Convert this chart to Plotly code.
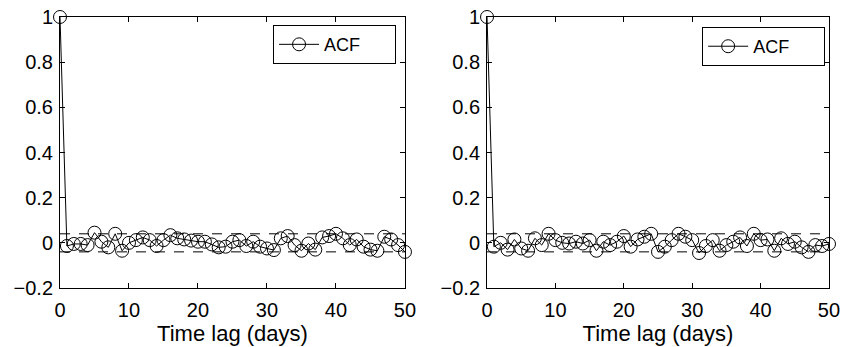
import plotly.graph_objects as go

lags = list(range(0, 51))
acf_left = [1.0, -0.014, -0.005, -0.005, -0.01, 0.045, 0.005, -0.02, 0.04, -0.035,
            0.0, 0.012, 0.024, 0.012, -0.014, 0.012, 0.034, 0.02, 0.015, 0.01,
            0.005, 0.005, -0.007, -0.02, -0.017, 0.005, 0.012, -0.014, 0.005, -0.017,
            -0.025, -0.032, 0.02, 0.03, -0.01, -0.035, -0.003, -0.03, 0.024, 0.03,
            0.04, 0.02, -0.01, 0.015, -0.017, -0.03, -0.035, 0.027, 0.015, -0.01, -0.04]
acf_right = [1.0, -0.017, 0.0, -0.03, 0.015, -0.025, -0.035, 0.02, -0.01, 0.04,
             0.012, 0.0, -0.003, 0.005, -0.003, 0.012, -0.035, 0.005, -0.01, 0.005,
             0.03, -0.017, 0.015, 0.027, 0.04, -0.04, -0.017, 0.012, 0.04, 0.027,
             0.012, -0.045, -0.014, 0.012, -0.035, -0.01, 0.005, 0.024, -0.014, 0.04,
             0.012, 0.015, -0.035, 0.02, -0.005, 0.005, -0.02, -0.04, -0.01, -0.014, -0.005]
conf = 0.04
x_ticks = [0, 10, 20, 30, 40, 50]
y_ticks = [-0.2, 0, 0.2, 0.4, 0.6, 0.8, 1]
y_labels = ["\u22120.2", "0", "0.2", "0.4", "0.6", "0.8", "1"]

FONT = "Liberation Sans, Arial, sans-serif"
fig = go.Figure()

for i, (vals, leg) in enumerate([(acf_left, "legend"), (acf_right, "legend2")]):
    xa = "x" if i == 0 else "x2"
    ya = "y" if i == 0 else "y2"
    for c in (conf, -conf):
        fig.add_trace(go.Scatter(x=[lags[0], lags[-1]], y=[c, c], mode="lines",
                                 line=dict(color="black", width=1, dash="10px,9px"),
                                 showlegend=False, xaxis=xa, yaxis=ya, hoverinfo="skip"))
    fig.add_trace(go.Scatter(x=lags, y=vals, mode="lines+markers", name="ACF",
                             line=dict(color="black", width=1),
                             marker=dict(symbol="circle-open", size=13, color="black",
                                         line=dict(width=1, color="black")),
                             xaxis=xa, yaxis=ya, legend=leg, cliponaxis=False))

axis_common = dict(showline=True, linecolor="black", linewidth=1, mirror="ticks",
                   ticks="inside", ticklen=5, tickcolor="black", showgrid=False,
                   zeroline=False, automargin=False,
                   tickfont=dict(family=FONT, size=20, color="black"))

leg_common = dict(xanchor="right", yanchor="top", bordercolor="black", borderwidth=1,
                  bgcolor="white", font=dict(family=FONT, size=18), orientation="h",
                  itemwidth=40, entrywidth=66, entrywidthmode="pixels")

fig.update_layout(
    width=845, height=347,
    margin=dict(l=60, r=16, t=17, b=59),
    paper_bgcolor="white", plot_bgcolor="white",
    font=dict(family=FONT, size=20, color="black"),
    xaxis=dict(domain=[0, 0.4486], range=[0, 50], tickvals=x_ticks, anchor="y",
               title=dict(text="Time lag (days)", standoff=3, font=dict(size=22)),
               ticklabelstandoff=4, **axis_common),
    yaxis=dict(domain=[0, 1], range=[-0.2, 1], tickvals=y_ticks, ticktext=y_labels,
               anchor="x", ticklabelstandoff=2, **axis_common),
    xaxis2=dict(domain=[0.5553, 1], range=[0, 50], tickvals=x_ticks, anchor="y2",
                title=dict(text="Time lag (days)", standoff=3, font=dict(size=22)),
                ticklabelstandoff=4, **axis_common),
    yaxis2=dict(domain=[0, 1], range=[-0.2, 1], tickvals=y_ticks, ticktext=y_labels,
                anchor="x2", ticklabelstandoff=2, **axis_common),
    legend=dict(x=0.437, y=0.97, **leg_common),
    legend2=dict(x=0.995, y=0.963, **leg_common),
    showlegend=True,
)

fig.write_html("out.html")
